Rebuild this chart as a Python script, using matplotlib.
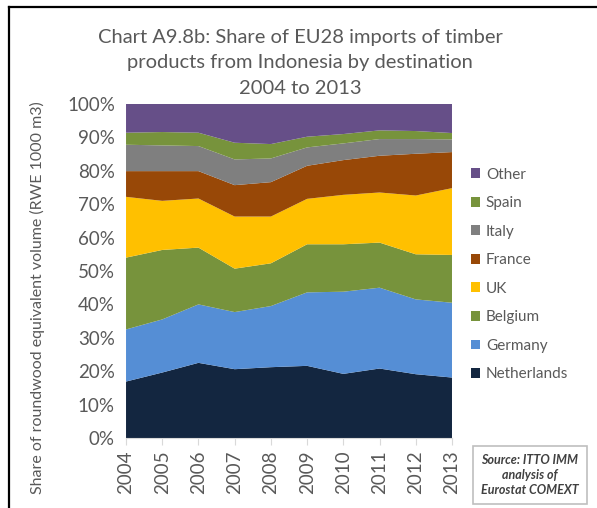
import matplotlib
matplotlib.use("Agg")
import matplotlib.pyplot as plt
from matplotlib.lines import Line2D
from matplotlib.patches import Patch
import numpy as np

plt.rcParams["font.family"] = ["Lato", "DejaVu Sans"]

years = [2004, 2005, 2006, 2007, 2008, 2009, 2010, 2011, 2012, 2013]

# shares of import volume (%), bottom to top of the stack
netherlands = [16.9, 19.6, 22.5, 20.6, 21.2, 21.6, 19.2, 20.8, 19.1, 18.1]
germany = [15.6, 15.9, 17.5, 17.1, 18.3, 22.0, 24.6, 24.2, 22.4, 22.4]
belgium = [21.5, 20.8, 17.0, 13.0, 12.8, 14.4, 14.2, 13.5, 13.5, 14.3]
uk = [18.2, 14.7, 14.7, 15.6, 14.0, 13.6, 14.8, 15.0, 17.6, 20.0]
france = [7.7, 8.9, 8.2, 9.4, 10.3, 9.9, 10.4, 11.0, 12.5, 10.8]
italy = [7.9, 7.7, 7.5, 7.7, 7.1, 5.5, 5.0, 5.0, 4.4, 3.8]
spain = [3.6, 4.0, 4.0, 5.0, 4.3, 3.2, 2.8, 2.6, 2.4, 1.9]
other = [8.6, 8.4, 8.6, 11.6, 12.0, 9.8, 9.0, 7.9, 8.1, 8.7]

series = [
    ("Netherlands", netherlands, "#132640"),
    ("Germany", germany, "#558ED5"),
    ("Belgium", belgium, "#77933C"),
    ("UK", uk, "#FFC000"),
    ("France", france, "#984807"),
    ("Italy", italy, "#7F7F7F"),
    ("Spain", spain, "#77933C"),
    ("Other", other, "#664F88"),
]

txt = "#595959"

fig = plt.figure(figsize=(5.97, 5.08), dpi=100)
ax = fig.add_axes([0.2111, 0.1378, 0.546, 0.6575])

vals = np.array([s[1] for s in series], dtype=float)
vals = vals / vals.sum(axis=0) * 100.0
ax.stackplot(years, vals, colors=[s[2] for s in series], linewidth=0)

ax.set_xlim(years[0], years[-1])
ax.set_ylim(0, 100)
ax.set_yticks(range(0, 101, 10))
ax.set_yticklabels(["{}%".format(v) for v in range(0, 101, 10)], fontsize=13.5, color=txt)
ax.set_xticks(years)
ax.set_xticklabels([str(y) for y in years], rotation=90, fontsize=13.5, color=txt)
ax.tick_params(axis="y", length=0, pad=8)
ax.tick_params(axis="x", length=5, color="#D9D9D9", pad=4)
for side in ["top", "right", "left"]:
    ax.spines[side].set_visible(False)
ax.spines["bottom"].set_color("#D9D9D9")

fig.text(37 / 597, 1 - 298 / 508,
         "Share of roundwood equivalent volume (RWE 1000 m3)",
         rotation=90, ha="center", va="center", fontsize=11.5, color=txt)

title_lines = [
    "Chart A9.8b: Share of EU28 imports of timber",
    "products from Indonesia by destination",
    "2004 to 2013",
]
for i, line in enumerate(title_lines):
    fig.text(0.5025, 1 - (37 + 25.5 * i) / 508, line,
             ha="center", va="center", fontsize=14.5, color=txt)

handles = [Patch(facecolor=c, edgecolor="none") for _, _, c in reversed(series)]
labels = [n for n, _, _ in reversed(series)]
fig.legend(handles, labels, loc="upper left", bbox_to_anchor=(0.778, 0.682),
           frameon=False, fontsize=11, labelcolor=txt,
           handlelength=0.6, handleheight=0.6, handletextpad=0.4,
           labelspacing=0.95, borderaxespad=0)

fig.text(530 / 597, 1 - 475 / 508, "Source: ITTO IMM\nanalysis of\nEurostat COMEXT",
         ha="center", va="center", fontsize=9, color="#404040",
         fontweight="bold", fontstyle="italic", linespacing=1.25,
         bbox=dict(boxstyle="square,pad=0.65", facecolor="white",
                   edgecolor="#BFBFBF", linewidth=1.2))

# frame lines along the top and left edges
fig.add_artist(Line2D([9 / 597, 1.0], [1 - 7 / 508, 1 - 7 / 508],
                      color="black", linewidth=1.6, transform=fig.transFigure))
fig.add_artist(Line2D([9 / 597, 9 / 597], [0.0, 1 - 7 / 508],
                      color="black", linewidth=1.6, transform=fig.transFigure))

fig.savefig("out.png", dpi=100)
